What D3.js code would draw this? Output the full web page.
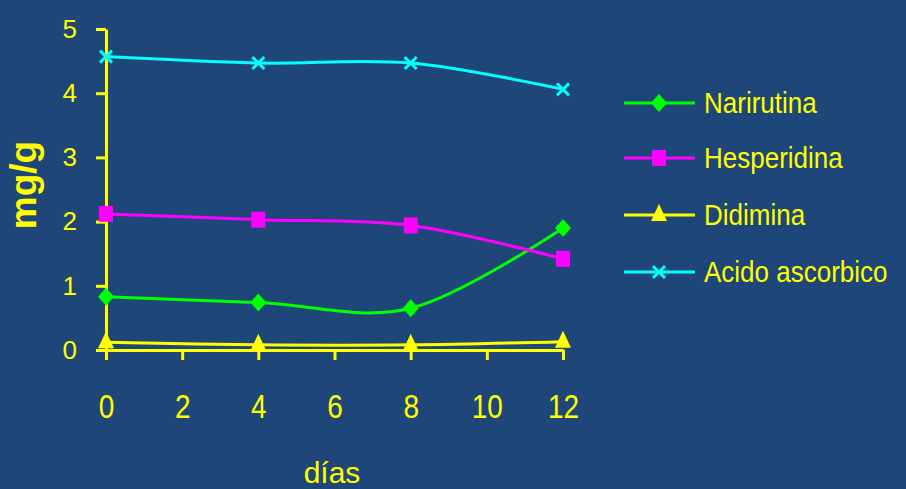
<!DOCTYPE html>
<html lang="es">
<head>
<meta charset="UTF-8">
<title>mg/g vs días</title>
<script src="https://d3js.org/d3.v7.min.js"></script>
<style>
    body { margin: 0; padding: 0; background: #1f4679; }
    svg { display: block; }
    text { font-family: "Liberation Sans", Arial, sans-serif; fill: #ffff00; }
</style>
</head>
<body>
<svg id="chart" width="906" height="489"></svg>
<script>
    // values
    const days = [0, 4, 8, 12];
    const narirutina = [0.83, 0.74, 0.65, 1.90];
    const hesperidina = [2.12, 2.03, 1.94, 1.42];
    const didimina = [0.12, 0.08, 0.08, 0.13];
    const acidoAscorbico = [4.57, 4.47, 4.47, 4.06];
    const xTicks = [0, 2, 4, 6, 8, 10, 12];
    const yTicks = [0, 1, 2, 3, 4, 5];

    const series = [
        { name: "Narirutina", values: narirutina, color: "#00ff00", marker: "diamond" },
        { name: "Hesperidina", values: hesperidina, color: "#ff00ff", marker: "square" },
        { name: "Didimina", values: didimina, color: "#ffff00", marker: "triangle" },
        { name: "Acido ascorbico", values: acidoAscorbico, color: "#00ffff", marker: "cross" }
    ];

    const svg = d3.select("#chart");
    svg.append("rect").attr("width", 906).attr("height", 489).attr("fill", "#1f4679");

    const x = d3.scaleLinear().domain([0, 12]).range([106, 563]);
    const y = d3.scaleLinear().domain([0, 5]).range([350, 29]);
    const axisColor = "#ffff00";

    // y axis
    const gy = svg.append("g").attr("transform", "translate(106,0)")
        .call(d3.axisLeft(y).tickValues(yTicks).tickFormat(d3.format("d"))
            .tickSize(10).tickSizeOuter(0).tickPadding(19));
    gy.select(".domain").attr("stroke", axisColor).attr("stroke-width", 3);
    gy.selectAll(".tick line").attr("stroke", axisColor).attr("stroke-width", 3);
    gy.selectAll(".tick text").attr("font-size", 26).attr("fill", axisColor)
        .style("font-family", "Liberation Sans, Arial, sans-serif");

    // x axis
    const gx = svg.append("g").attr("transform", "translate(0,350)")
        .call(d3.axisBottom(x).tickValues(xTicks).tickSize(10).tickSizeOuter(0));
    gx.select(".domain").attr("stroke", axisColor).attr("stroke-width", 3);
    gx.selectAll(".tick line").attr("stroke", axisColor).attr("stroke-width", 3);
    gx.selectAll(".tick text")
        .attr("y", 0).attr("dy", 0)
        .attr("transform", "translate(0,68) scale(1,1.2)")
        .attr("font-size", 28).attr("fill", axisColor)
        .style("font-family", "Liberation Sans, Arial, sans-serif");

    // axis titles
    svg.append("text")
        .attr("transform", "translate(36,185) rotate(-90)")
        .attr("text-anchor", "middle")
        .attr("font-size", 37).attr("font-weight", "bold")
        .text("mg/g");
    svg.append("text")
        .attr("x", 332).attr("y", 483)
        .attr("text-anchor", "middle")
        .attr("font-size", 30)
        .text("días");

    const line = d3.line()
        .x((d, i) => x(days[i]))
        .y(d => y(d))
        .curve(d3.curveCatmullRom.alpha(0));

    function drawMarker(g, type, color, cx, cy) {
        if (type === "diamond") {
            g.append("path").attr("d", `M${cx},${cy - 9}L${cx + 8},${cy}L${cx},${cy + 9}L${cx - 8},${cy}Z`)
                .attr("fill", color);
        } else if (type === "square") {
            g.append("rect").attr("x", cx - 7).attr("y", cy - 8).attr("width", 14).attr("height", 16)
                .attr("fill", color);
        } else if (type === "triangle") {
            g.append("path").attr("d", `M${cx},${cy - 11}L${cx + 8},${cy + 6}L${cx - 8},${cy + 6}Z`)
                .attr("fill", color);
        } else {
            g.append("path").attr("d", `M${cx - 6},${cy - 6}L${cx + 6},${cy + 6}M${cx - 6},${cy + 6}L${cx + 6},${cy - 6}`)
                .attr("stroke", color).attr("stroke-width", 3);
        }
    }

    series.forEach(s => {
        svg.append("path").datum(s.values)
            .attr("d", line)
            .attr("fill", "none")
            .attr("stroke", s.color)
            .attr("stroke-width", 3);
        const gm = svg.append("g");
        s.values.forEach((v, i) => drawMarker(gm, s.marker, s.color, x(days[i]), y(v)));
    });

    // legend
    const legendY = [103, 158, 215, 272];
    series.forEach((s, i) => {
        const g = svg.append("g");
        g.append("line").attr("x1", 624).attr("x2", 695)
            .attr("y1", legendY[i]).attr("y2", legendY[i])
            .attr("stroke", s.color).attr("stroke-width", 3);
        drawMarker(g, s.marker, s.color, 659, legendY[i]);
        g.append("text")
            .attr("transform", `translate(704,${legendY[i] + 10}) scale(1,1.12)`)
            .attr("font-size", 26)
            .text(s.name);
    });
</script>
</body>
</html>
